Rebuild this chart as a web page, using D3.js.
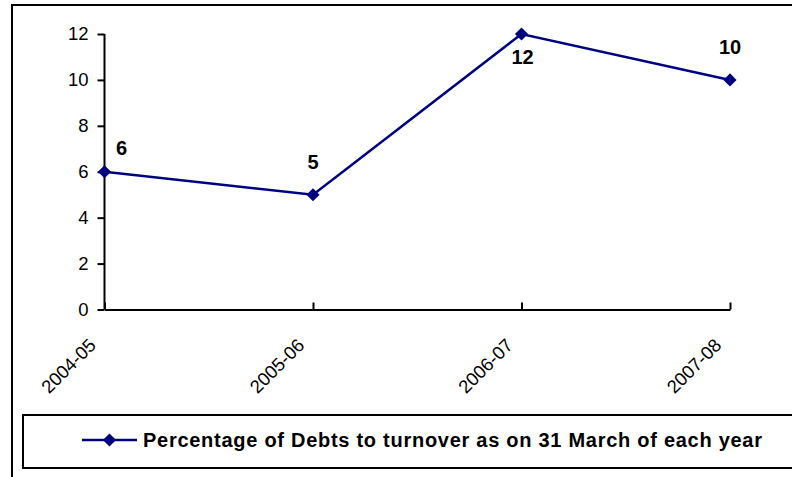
<!DOCTYPE html>
<html>
<head>
    <meta charset="utf-8">
    <style>
        body { margin: 0; background: #fff; }
        svg { display: block; font-family: Arial, "Liberation Sans", sans-serif; }
    </style>
</head>
<body>
<div id="chart"></div>
<script src="https://d3js.org/d3.v7.min.js"></script>
<script>
    var years = ["2004-05", "2005-06", "2006-07", "2007-08"];
    var debtPct = [6, 5, 12, 10];
    var yTicks = [0, 2, 4, 6, 8, 10, 12];
    var seriesName = "Percentage of Debts to turnover as on 31 March of each year";

    var W = 792, H = 477;
    var navy = "#000080";

    var svg = d3.select("#chart").append("svg")
        .attr("width", W)
        .attr("height", H);

    // outer chart frame (runs off the right/bottom edge)
    svg.append("rect")
        .attr("x", 12).attr("y", 5)
        .attr("width", 800).attr("height", 500)
        .attr("fill", "none").attr("stroke", "#000").attr("stroke-width", 2);

    var x = d3.scalePoint().domain(years).range([104.5, 730]);
    var y = d3.scaleLinear().domain([0, 12]).range([309.5, 34]);

    // y axis
    var yAxis = svg.append("g")
        .attr("transform", "translate(104.5,0)")
        .call(d3.axisLeft(y).tickValues(yTicks).tickSize(7).tickPadding(9));
    yAxis.selectAll("path, line").attr("stroke", "#000").attr("stroke-width", 2);
    yAxis.select(".domain").attr("d", "M0," + y(12) + "V" + y(0));
    yAxis.selectAll("text").style("font-size", "18.5px").attr("fill", "#000");

    // x axis, ticks point up into the plot
    var xAxis = svg.append("g")
        .attr("transform", "translate(0,309.5)")
        .call(d3.axisBottom(x).tickSize(-7).tickSizeOuter(0));
    xAxis.selectAll("path, line").attr("stroke", "#000").attr("stroke-width", 2);
    xAxis.selectAll("text")
        .style("font-size", "18.5px")
        .attr("fill", "#000")
        .style("text-anchor", "end")
        .attr("dy", null)
        .attr("y", 0)
        .attr("transform", "translate(-8,37) rotate(-45)");

    var pts = years.map(function(d, i) { return { year: d, value: debtPct[i] }; });

    var line = d3.line()
        .x(function(d) { return x(d.year); })
        .y(function(d) { return y(d.value); });

    svg.append("path")
        .datum(pts)
        .attr("d", line)
        .attr("fill", "none")
        .attr("stroke", navy)
        .attr("stroke-width", 2.5);

    var diamond = d3.symbol().type(d3.symbolDiamond2).size(110);

    svg.selectAll(".marker")
        .data(pts)
        .enter().append("path")
        .attr("class", "marker")
        .attr("d", diamond)
        .attr("fill", navy)
        .attr("transform", function(d) { return "translate(" + x(d.year) + "," + y(d.value) + ")"; });

    // label offsets as placed in the original
    var labelOff = [[17, -17], [0, -26], [1, 30], [0, -26]];
    svg.selectAll(".dlabel")
        .data(pts)
        .enter().append("text")
        .attr("class", "dlabel")
        .attr("x", function(d, i) { return x(d.year) + labelOff[i][0]; })
        .attr("y", function(d, i) { return y(d.value) + labelOff[i][1]; })
        .attr("text-anchor", "middle")
        .style("font-size", "20px")
        .style("font-weight", "bold")
        .text(function(d) { return d.value; });

    // legend
    var lg = svg.append("g");
    lg.append("rect")
        .attr("x", 23).attr("y", 415)
        .attr("width", 800).attr("height", 53)
        .attr("fill", "none").attr("stroke", "#000").attr("stroke-width", 2);
    lg.append("line")
        .attr("x1", 82).attr("x2", 137)
        .attr("y1", 440).attr("y2", 440)
        .attr("stroke", navy).attr("stroke-width", 2.5);
    lg.append("path")
        .attr("d", diamond)
        .attr("fill", navy)
        .attr("transform", "translate(109.5,440)");
    lg.append("text")
        .attr("x", 143).attr("y", 447)
        .attr("textLength", 619)
        .attr("lengthAdjust", "spacing")
        .style("font-size", "20px")
        .style("font-weight", "bold")
        .text(seriesName);
</script>
</body>
</html>
